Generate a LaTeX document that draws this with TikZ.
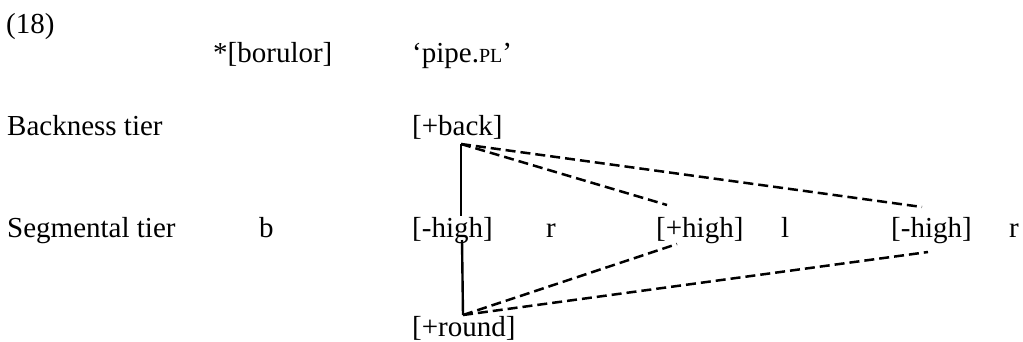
\documentclass[tikz,border=0pt]{standalone}
\usepackage{fontspec}
\setmainfont{Liberation Serif}
\begin{document}
\begin{tikzpicture}[x=1pt,y=-1pt,
  lbl/.style={anchor=base west,inner sep=0pt,font=\fontsize{29}{34}\selectfont},
  assoc/.style={line width=2.4pt},
  dassoc/.style={line width=2.5pt,dash pattern=on 10pt off 5pt}]
\useasboundingbox (0,0) rectangle (1023,341);
\node[lbl] (ex) at (6,33) {(18)};
\node[lbl] (form) at (213,62) {*[borulor]};
\node[lbl] (gloss) at (412,62) {‘pipe.{\fontsize{20}{20}\selectfont PL}’};
\node[lbl] (backtier) at (7,135) {Backness tier};
\node[lbl] (back) at (412,135) {[+back]};
\node[lbl] (segtier) at (7,237) {Segmental tier};
\node[lbl] (b) at (259,237) {b};
\node[lbl] (hA) at (412,237) {[-high]};
\node[lbl] (r1) at (546,237) {r};
\node[lbl] (hB) at (656,237) {[+high]};
\node[lbl] (l) at (781,237) {l};
\node[lbl] (hC) at (891,237) {[-high]};
\node[lbl] (r2) at (1009,237) {r};
\node[lbl] (round) at (412,336) {[+round]};
% association points
\coordinate (backfoot) at (461,144);
\coordinate (hAtop) at (461,216);
\coordinate (hAbot) at (462,240);
\coordinate (hBtop) at (667,205);
\coordinate (hCtop) at (922,207);
\coordinate (hBbot) at (677,244);
\coordinate (hCbot) at (928,252);
\coordinate (roundtop) at (463,315);
\draw[assoc] (backfoot) -- (hAtop);
\draw[assoc] (hAbot) -- (roundtop);
\draw[dassoc] (backfoot) -- (hBtop);
\draw[dassoc] (backfoot) -- (hCtop);
\draw[dassoc] (roundtop) -- (hBbot);
\draw[dassoc] (roundtop) -- (hCbot);
\end{tikzpicture}
\end{document}
